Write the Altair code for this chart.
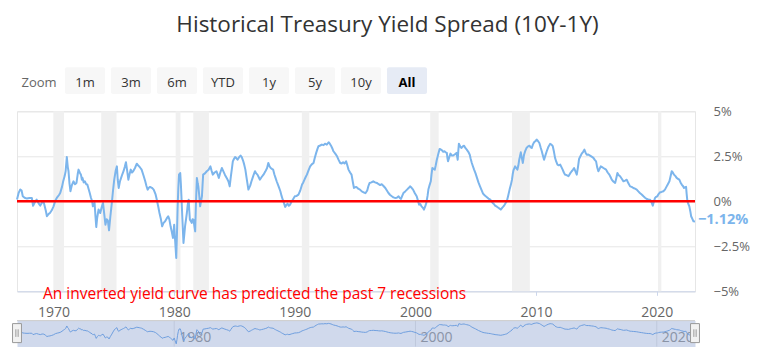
import altair as alt
import pandas as pd

# ---------------- data ----------------
years = [1966.97, 1967.10, 1967.24, 1967.35, 1967.45, 1967.6, 1967.8, 1968.0, 1968.2, 1968.3,
         1968.45, 1968.6, 1968.75, 1968.9, 1969.05, 1969.2, 1969.35, 1969.45, 1969.6, 1969.7,
         1969.85, 1970.0, 1970.15, 1970.3, 1970.45, 1970.55, 1970.7, 1970.8, 1970.92, 1971.0,
         1971.1, 1971.18, 1971.24, 1971.32, 1971.4, 1971.52, 1971.65, 1971.78, 1971.9, 1972.0,
         1972.07, 1972.17, 1972.27, 1972.35, 1972.4, 1972.5, 1972.6, 1972.7, 1972.8, 1972.9,
         1973.0, 1973.1, 1973.2, 1973.26, 1973.33, 1973.4, 1973.47, 1973.54, 1973.62, 1973.73,
         1973.8, 1973.87, 1974.0, 1974.1, 1974.2, 1974.3, 1974.4, 1974.5, 1974.6, 1974.7,
         1974.83, 1974.93, 1975.03, 1975.15, 1975.25, 1975.32, 1975.4, 1975.5, 1975.6, 1975.7,
         1975.8, 1975.9, 1976.0, 1976.1, 1976.2, 1976.3, 1976.4, 1976.5, 1976.6, 1976.75,
         1976.9, 1977.0, 1977.1, 1977.2, 1977.3, 1977.45, 1977.6, 1977.7, 1977.8, 1977.9,
         1978.0, 1978.15, 1978.3, 1978.45, 1978.56, 1978.68, 1978.78, 1978.9, 1979.0, 1979.12,
         1979.25, 1979.38, 1979.5, 1979.6, 1979.7, 1979.8, 1979.9, 1980.0, 1980.08, 1980.17,
         1980.23, 1980.28, 1980.34, 1980.4, 1980.5, 1980.55, 1980.6, 1980.68, 1980.77, 1980.83,
         1980.9, 1981.0, 1981.05, 1981.12, 1981.2, 1981.25, 1981.3, 1981.38, 1981.45, 1981.52,
         1981.6, 1981.68, 1981.74, 1981.8, 1981.88, 1981.95, 1982.0, 1982.08, 1982.15, 1982.22,
         1982.3, 1982.35, 1982.4, 1982.55, 1982.7, 1982.85, 1983.0, 1983.1, 1983.2, 1983.35,
         1983.5, 1983.6, 1983.7, 1983.8, 1983.95, 1984.05, 1984.2, 1984.35, 1984.5, 1984.6,
         1984.7, 1984.8, 1984.86, 1984.95, 1985.05, 1985.15, 1985.25, 1985.38, 1985.5, 1985.6,
         1985.7, 1985.8, 1985.9, 1986.0, 1986.15, 1986.3, 1986.4, 1986.5, 1986.6, 1986.7,
         1986.8, 1986.9, 1987.0, 1987.1, 1987.25, 1987.4, 1987.55, 1987.7, 1987.8, 1987.9,
         1988.0, 1988.1, 1988.2, 1988.3, 1988.4, 1988.5, 1988.6, 1988.7, 1988.8, 1988.9,
         1989.0, 1989.1, 1989.2, 1989.3, 1989.4, 1989.5, 1989.6, 1989.7, 1989.83, 1990.0,
         1990.15, 1990.3, 1990.45, 1990.6, 1990.7, 1990.8, 1990.9, 1991.0, 1991.15, 1991.27,
         1991.4, 1991.55, 1991.65, 1991.77, 1991.87, 1991.96, 1992.1, 1992.24, 1992.38, 1992.5,
         1992.65, 1992.8, 1992.9, 1993.0, 1993.1, 1993.2, 1993.35, 1993.5, 1993.63, 1993.76,
         1993.88, 1994.0, 1994.12, 1994.25, 1994.35, 1994.45, 1994.58, 1994.7, 1994.8, 1994.9,
         1995.0, 1995.1, 1995.25, 1995.4, 1995.55, 1995.7, 1995.85, 1996.0, 1996.1, 1996.2,
         1996.35, 1996.5, 1996.65, 1996.8, 1996.95, 1997.07, 1997.2, 1997.35, 1997.5, 1997.63,
         1997.76, 1997.9, 1998.04, 1998.17, 1998.3, 1998.45, 1998.6, 1998.7, 1998.8, 1998.9,
         1999.0, 1999.15, 1999.3, 1999.45, 1999.55, 1999.68, 1999.8, 1999.95, 2000.1, 2000.2,
         2000.3, 2000.4, 2000.5, 2000.6, 2000.7, 2000.8, 2000.9, 2001.0, 2001.07, 2001.17,
         2001.27, 2001.33, 2001.4, 2001.5, 2001.6, 2001.68, 2001.77, 2001.88, 2002.0, 2002.1,
         2002.2, 2002.3, 2002.4, 2002.5, 2002.6, 2002.65, 2002.7, 2002.8, 2002.9, 2003.0,
         2003.1, 2003.25, 2003.4, 2003.5, 2003.55, 2003.6, 2003.7, 2003.8, 2003.92, 2004.03,
         2004.15, 2004.25, 2004.38, 2004.5, 2004.58, 2004.67, 2004.76, 2004.86, 2004.98, 2005.1,
         2005.22, 2005.35, 2005.48, 2005.6, 2005.75, 2005.9, 2006.05, 2006.2, 2006.3, 2006.4,
         2006.5, 2006.6, 2006.75, 2006.9, 2007.0, 2007.07, 2007.2, 2007.35, 2007.45, 2007.57,
         2007.68, 2007.8, 2007.9, 2008.0, 2008.06, 2008.12, 2008.26, 2008.35, 2008.45, 2008.53,
         2008.6, 2008.73, 2008.82, 2008.9, 2009.0, 2009.1, 2009.2, 2009.33, 2009.45, 2009.55,
         2009.64, 2009.73, 2009.83, 2009.95, 2010.05, 2010.15, 2010.27, 2010.37, 2010.47, 2010.56,
         2010.66, 2010.77, 2010.88, 2011.0, 2011.16, 2011.27, 2011.38, 2011.48, 2011.57, 2011.67,
         2011.77, 2011.88, 2012.0, 2012.1, 2012.2, 2012.3, 2012.4, 2012.55, 2012.68, 2012.82,
         2012.95, 2013.05, 2013.15, 2013.27, 2013.37, 2013.47, 2013.56, 2013.67, 2013.78, 2013.9,
         2014.0, 2014.1, 2014.2, 2014.33, 2014.47, 2014.6, 2014.75, 2014.86, 2014.97, 2015.06,
         2015.16, 2015.26, 2015.36, 2015.47, 2015.58, 2015.7, 2015.8, 2015.93, 2016.07, 2016.17,
         2016.27, 2016.4, 2016.55, 2016.65, 2016.74, 2016.85, 2016.96, 2017.1, 2017.24, 2017.38,
         2017.51, 2017.65, 2017.79, 2017.92, 2018.06, 2018.2, 2018.34, 2018.47, 2018.6, 2018.75,
         2018.9, 2019.03, 2019.17, 2019.3, 2019.45, 2019.56, 2019.67, 2019.77, 2019.86, 2019.95,
         2020.05, 2020.15, 2020.27, 2020.4, 2020.55, 2020.68, 2020.8, 2020.92, 2021.05, 2021.15,
         2021.24, 2021.33, 2021.43, 2021.55, 2021.65, 2021.76, 2021.87, 2021.97, 2022.07, 2022.17,
         2022.26, 2022.35, 2022.43, 2022.48, 2022.54, 2022.62, 2022.7, 2022.78, 2022.85, 2022.95,
         2023.04, 2023.17]

spread = [0.10, 0.45, 0.66, 0.60, 0.28, 0.20, 0.15, 0.18, 0.19, -0.25,
          -0.05, 0.09, -0.10, -0.24, -0.05, -0.09, -0.50, -0.83, -0.70, -0.65,
          -0.50, -0.28, 0.05, 0.22, 0.35, 0.46, 0.80, 1.11, 1.40, 1.67,
          2.46, 1.90, 1.67, 1.00, 0.56, 0.90, 1.11, 0.95, 1.02, 1.50,
          1.76, 1.60, 1.48, 1.20, 1.30, 1.05, 1.11, 0.95, 0.93, 0.70,
          0.46, 0.20, 0.00, -0.28, -0.20, -0.09, -0.80, -1.43, -0.90, -0.46,
          -0.55, -0.65, -0.30, -0.09, -0.70, -1.30, -1.00, -1.06, -1.61, -0.90,
          -0.09, 0.60, 1.20, 1.70, 1.94, 1.20, 0.74, 1.10, 1.30, 1.50,
          1.67, 1.90, 2.17, 1.70, 1.20, 1.50, 1.76, 1.60, 1.67, 1.85,
          2.09, 2.00, 1.94, 1.85, 1.76, 1.45, 1.11, 0.85, 0.65, 0.75,
          0.80, 0.75, 0.65, 0.40, 0.09, -0.30, -0.65, -1.00, -1.39, -1.20,
          -1.11, -0.95, -0.83, -1.00, -1.39, -1.70, -2.04, -1.30, -2.20, -3.15,
          -1.80, -0.46, 0.70, 1.48, 1.57, 1.00, 0.28, -1.00, -2.31, -1.90,
          -1.39, -0.90, -0.65, -0.20, 0.09, -0.50, -1.02, -1.10, -1.20, -1.00,
          -1.02, -1.40, -1.67, -0.20, 1.30, 1.00, 0.83, 0.30, -0.28, 0.00,
          0.28, 0.90, 1.48, 1.55, 1.67, 1.75, 1.94, 1.70, 1.48, 1.60,
          1.67, 1.50, 1.30, 1.55, 1.85, 1.70, 1.48, 1.30, 1.10, 0.83,
          1.40, 1.90, 2.22, 2.35, 2.46, 2.40, 2.31, 2.45, 2.54, 2.45,
          2.28, 2.05, 1.76, 1.30, 0.65, 0.87, 1.10, 1.30, 1.50, 1.67,
          1.55, 1.48, 1.35, 1.20, 1.35, 1.48, 1.65, 1.85, 2.13, 1.95,
          1.85, 1.80, 1.76, 1.50, 1.30, 1.10, 0.93, 0.75, 0.56, 0.30,
          0.09, -0.10, -0.31, -0.20, -0.13, -0.25, -0.19, -0.05, 0.09, 0.28,
          0.30, 0.37, 0.60, 0.93, 1.05, 1.20, 1.35, 1.48, 1.75, 1.94,
          2.05, 2.13, 2.40, 2.69, 2.90, 3.06, 3.10, 3.15, 3.12, 3.20,
          3.15, 3.28, 3.20, 3.09, 2.95, 2.78, 2.65, 2.50, 2.30, 2.13,
          2.10, 2.17, 2.10, 2.22, 2.00, 1.76, 1.60, 1.48, 1.10, 0.74,
          0.78, 0.80, 0.70, 0.65, 0.55, 0.50, 0.45, 0.60, 0.85, 1.02,
          1.05, 1.11, 1.05, 1.02, 0.95, 0.90, 0.95, 0.85, 0.74, 0.60,
          0.46, 0.35, 0.28, 0.22, 0.19, 0.20, 0.28, 0.18, 0.13, 0.30,
          0.46, 0.55, 0.65, 0.75, 0.83, 0.75, 0.65, 0.45, 0.28, 0.05,
          -0.19, -0.15, -0.28, -0.35, -0.46, -0.30, -0.09, 0.30, 0.65, 0.90,
          1.11, 1.50, 1.85, 1.80, 1.76, 2.00, 2.31, 2.60, 2.91, 2.88,
          2.83, 2.75, 2.78, 2.72, 2.69, 2.40, 2.22, 2.45, 2.65, 2.55,
          2.54, 2.60, 2.69, 2.31, 2.80, 3.20, 3.05, 2.96, 3.05, 3.09,
          2.95, 2.87, 2.75, 2.59, 2.35, 2.13, 1.95, 1.76, 1.55, 1.30,
          1.05, 0.83, 0.62, 0.43, 0.32, 0.24, 0.15, 0.09, 0.00, -0.09,
          -0.15, -0.24, -0.30, -0.37, -0.42, -0.46, -0.35, -0.24, -0.12, 0.00,
          0.30, 0.65, 0.90, 1.20, 1.50, 1.72, 1.94, 1.85, 1.76, 2.00,
          2.31, 2.72, 2.40, 2.13, 2.59, 2.80, 2.96, 3.05, 3.09, 3.00,
          2.96, 3.15, 3.28, 3.35, 3.43, 3.35, 3.24, 3.00, 2.78, 2.55,
          2.31, 2.55, 2.78, 3.00, 3.19, 3.15, 3.06, 2.75, 2.41, 2.20,
          2.04, 2.00, 2.04, 1.90, 1.76, 1.60, 1.48, 1.45, 1.39, 1.55,
          1.67, 1.75, 1.85, 1.65, 1.48, 1.90, 2.35, 2.50, 2.65, 2.75,
          2.87, 2.70, 2.59, 2.60, 2.54, 2.48, 2.41, 2.30, 2.22, 1.90,
          1.67, 1.80, 1.94, 1.90, 1.85, 1.80, 1.76, 1.60, 1.48, 1.35,
          1.20, 1.10, 1.02, 1.30, 1.57, 1.45, 1.39, 1.25, 1.11, 1.15,
          1.20, 1.00, 0.83, 0.80, 0.74, 0.70, 0.65, 0.55, 0.46, 0.38,
          0.28, 0.20, 0.13, 0.10, 0.09, -0.05, -0.24, 0.00, 0.19, 0.25,
          0.28, 0.40, 0.50, 0.52, 0.56, 0.65, 0.80, 0.95, 1.11, 1.40,
          1.67, 1.60, 1.48, 1.40, 1.30, 1.25, 1.20, 1.05, 0.93, 0.85,
          0.74, 0.78, 0.80, 0.40, 0.00, -0.15, -0.28, -0.55, -0.83, -0.98,
          -1.11, -1.12]

rec_start = [1969.98, 1973.95, 1980.12, 1981.58, 1990.58, 2001.22, 2008.0, 2020.1]
rec_end = [1970.87, 1975.22, 1980.52, 1982.88, 1991.2, 2001.92, 2009.48, 2020.38]

y_ticks = [-5, -2.5, 0, 2.5, 5]
x_ticks = [1970, 1980, 1990, 2000, 2010, 2020]
nav_ticks = [1980, 2000, 2020]
buttons = ["Zoom", "1m", "3m", "6m", "YTD", "1y", "5y", "10y", "All"]
selected_button = "All"
title_text = "Historical Treasury Yield Spread (10Y-1Y)"
note_text = "An inverted yield curve has predicted the past 7 recessions"

# ---------------- layout / style ----------------
FONT = "Open Sans"
X0, X1 = years[0], years[-1]
W, H = 678, 180
NAV_H = 26
HEAD_H = 74.4
SPACING = 29.3

df = pd.DataFrame({"year": years, "spread": spread})
xs = alt.Scale(domain=[X0, X1], nice=False, zero=False)
ys = alt.Scale(domain=[-5, 5], nice=False, zero=False)

x_axis = alt.Axis(values=x_ticks, format="d", title=None, grid=False, tickSize=4,
                  tickColor="#ccd6eb", domainColor="#ccd6eb", labelColor="#666666",
                  labelFontSize=14, labelFont=FONT, labelPadding=10.5, labelFlush=False)
y_axis = alt.Axis(orient="right", values=y_ticks, title=None, grid=True, gridColor="#e6e6e6",
                  tickSize=0, domain=False, labelPadding=18, labelColor="#666666",
                  labelFontSize=13, labelFont=FONT, labelAlign="left",
                  labelExpr="(datum.value < 0 ? '\u2212' : '') + abs(datum.value) + '%'")

# ---------------- header: title + zoom buttons ----------------
btn_df = pd.DataFrame({"label": buttons})
bx = alt.X("label:N", sort=buttons, axis=None,
           scale=alt.Scale(paddingInner=6 / 46, paddingOuter=2 / 46))
base_h = alt.Chart(btn_df)
btn_rect = base_h.mark_rect(cornerRadius=2).encode(
    x=bx, y=alt.value(60.3), y2=alt.value(87),
    color=alt.condition(alt.datum.label == selected_button, alt.value("#e6ebf5"), alt.value("#f7f7f7")),
).transform_filter(alt.datum.label != "Zoom")
btn_text = base_h.mark_text(baseline="alphabetic", fontSize=13, font=FONT, color="#333333").encode(
    x=bx, y=alt.value(79.5), text="label:N",
).transform_filter((alt.datum.label != "Zoom") & (alt.datum.label != selected_button))
btn_sel = base_h.mark_text(baseline="alphabetic", fontSize=13, font=FONT, fontWeight="bold",
                           color="#000000").encode(
    x=bx, y=alt.value(79.5), text="label:N",
).transform_filter(alt.datum.label == selected_button)
zoom_lbl = base_h.mark_text(baseline="alphabetic", fontSize=13, font=FONT, color="#666666").encode(
    x=bx, y=alt.value(79.5), text="label:N",
).transform_filter(alt.datum.label == "Zoom")
title = alt.Chart(pd.DataFrame({"t": [title_text]})).mark_text(
    baseline="alphabetic", align="center", fontSize=22.5, font=FONT, color="#333333"
).encode(x=alt.value(370.5), y=alt.value(24.8), text="t:N")

header = alt.layer(btn_rect, btn_text, btn_sel, zoom_lbl, title).properties(
    width=412, height=HEAD_H, view=alt.ViewBackground(stroke="transparent"))

# ---------------- main chart ----------------
rec_df = pd.DataFrame({"start": rec_start, "end": rec_end})
bands = alt.Chart(rec_df).mark_rect(color="#f0f0f0").encode(
    x=alt.X("start:Q", scale=xs, axis=x_axis), x2="end:Q",
    y=alt.Y(datum=5, scale=ys, axis=y_axis), y2=alt.datum(-5))

line = alt.Chart(df).mark_line(color="#7cb5ec", strokeWidth=2, strokeJoin="round").encode(
    x=alt.X("year:Q", scale=xs, axis=x_axis),
    y=alt.Y("spread:Q", scale=ys, axis=y_axis))

zero = alt.Chart(pd.DataFrame({"v": [0]})).mark_rule(color="#ff0000", strokeWidth=2.5).encode(
    y=alt.Y("v:Q", scale=ys, axis=y_axis))

last = df.tail(1).copy()
last["label"] = last["spread"].map(lambda v: f"{v:.2f}%".replace("-", "\u2212"))
end_lbl = alt.Chart(last).mark_text(align="left", baseline="alphabetic", dx=3, dy=2.3,
                                    fontSize=14.5, fontWeight="bold", font=FONT,
                                    color="#7cb5ec").encode(
    x=alt.X("year:Q", scale=xs, axis=x_axis),
    y=alt.Y("spread:Q", scale=ys, axis=y_axis), text="label:N")

note = alt.Chart(pd.DataFrame({"t": [note_text]})).mark_text(
    align="left", baseline="alphabetic", fontSize=15.5, font=FONT, color="#ff0000"
).encode(x=alt.value(26), y=alt.value(187.8), text="t:N")

main = alt.layer(bands, line, zero, end_lbl, note).properties(width=W, height=H)

# ---------------- navigator ----------------
nys = alt.Scale(domain=[-4.0, 4.15], nice=False, zero=False)
nav_grid = alt.Chart(pd.DataFrame({"year": nav_ticks})).mark_rule(color="#bfc8dc").encode(
    x=alt.X("year:Q", scale=xs, axis=None))
nav_lbl = alt.Chart(pd.DataFrame({"year": nav_ticks})).mark_text(
    align="left", baseline="alphabetic", dx=5, fontSize=14, font=FONT, color="#8a93a6", clip=True
).encode(x=alt.X("year:Q", scale=xs, axis=None), y=alt.value(21.3), text=alt.Text("year:Q", format="d"))
nav_line = alt.Chart(df).mark_line(color="#6f9fdf", strokeWidth=1).encode(
    x=alt.X("year:Q", scale=xs, axis=None), y=alt.Y("spread:Q", scale=nys, axis=None))
nav_top = alt.Chart(pd.DataFrame({"v": [0]})).mark_rule(color="#cccccc").encode(y=alt.value(0))
handle_df = pd.DataFrame({"year": [X0, X1]})
handles = alt.Chart(handle_df).mark_point(
    shape="M-0.47,-1L0.47,-1L0.47,1L-0.47,1Z", size=361, filled=True,
    fill="#f2f2f2", stroke="#999999", strokeWidth=1, opacity=1
).encode(x=alt.X("year:Q", scale=xs, axis=None), y=alt.value(12.5))
grips = alt.Chart(handle_df).mark_point(
    shape="M-0.12,-0.4L-0.12,0.4M0.12,-0.4L0.12,0.4", size=361, filled=False,
    stroke="#999999", strokeWidth=1, opacity=1
).encode(x=alt.X("year:Q", scale=xs, axis=None), y=alt.value(12.5))

nav = alt.layer(nav_grid, nav_lbl, nav_line, nav_top, handles, grips).properties(
    width=W, height=NAV_H, view=alt.ViewBackground(fill="#d0d9ec", stroke="transparent"))

chart = alt.vconcat(header, main, nav, spacing=SPACING, bounds="flush").properties(
    padding={"left": 2, "top": -2, "right": 0, "bottom": 0}
).configure_view(stroke="#e6e6e6")

chart.save("out.html", embed_options={"renderer": "svg", "actions": False})
